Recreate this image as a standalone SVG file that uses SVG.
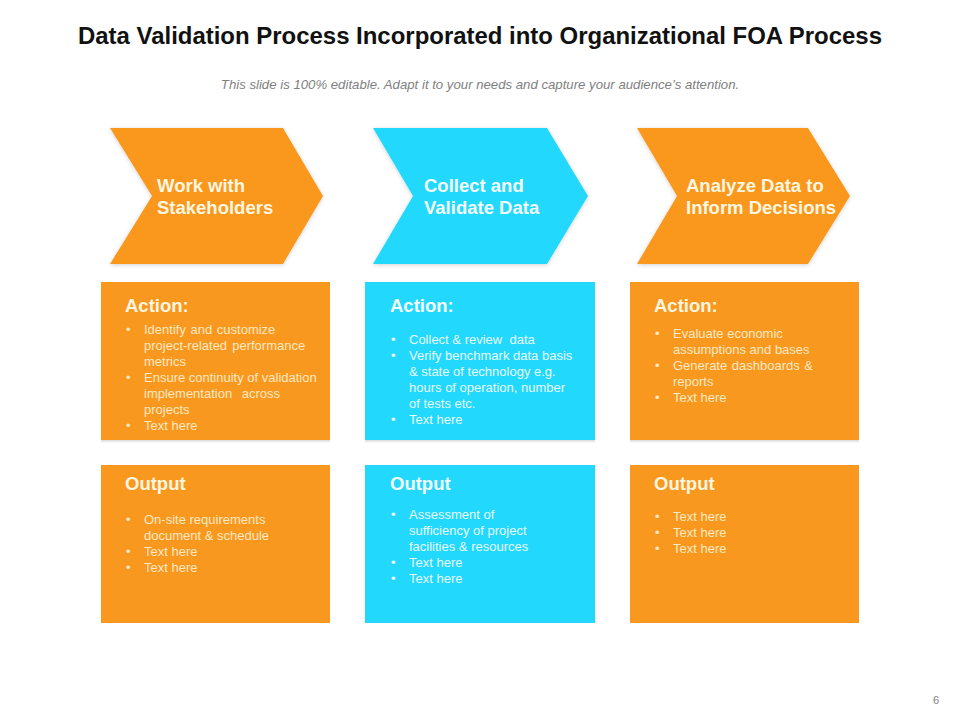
<svg xmlns="http://www.w3.org/2000/svg" width="960" height="720" viewBox="0 0 960 720">
<defs>
<style>
.t{font-family:"Liberation Sans",Arial,sans-serif}
.title{font-size:23px;font-weight:bold;fill:#111}
.sub{font-size:13.2px;font-style:italic;fill:#7f7f7f}
.chev{font-size:18.5px;font-weight:bold}
.hd{font-size:18.5px;font-weight:bold}
.bl{font-size:13px}
.o{fill:#F9981F}
.c{fill:#22D8FC}
.to{fill:#FFF6E0}
.tc{fill:#F2FCFF}
.bo{fill:#FDE8C2}
.bc{fill:#E6FAFF}
</style>
<filter id="glow" x="-10%" y="-10%" width="120%" height="120%">
<feGaussianBlur in="SourceAlpha" stdDeviation="2"/>
<feOffset dx="0" dy="1" result="b"/>
<feFlood flood-color="#000" flood-opacity="0.18"/>
<feComposite in2="b" operator="in"/>
<feMerge><feMergeNode/><feMergeNode in="SourceGraphic"/></feMerge>
</filter>
<linearGradient id="sh" x1="0" y1="0" x2="0" y2="1">
<stop offset="0" stop-color="#000" stop-opacity="0.15"/>
<stop offset="1" stop-color="#000" stop-opacity="0"/>
</linearGradient>
</defs>
<rect width="960" height="720" fill="#fff"/>
<text class="t title" x="480" y="44" text-anchor="middle" textLength="804" lengthAdjust="spacingAndGlyphs">Data Validation Process Incorporated into Organizational FOA Process</text>
<text class="t sub" x="480" y="89" text-anchor="middle">This slide is 100% editable. Adapt it to your needs and capture your audience’s attention.</text>

<g id="step1">
<path class="o" filter="url(#glow)" d="M110,128 L283,128 L323,196 L283,264 L110,264 L152,196 Z"/>
<text class="t chev to" x="157" y="192">Work with</text>
<text class="t chev to" x="157" y="214">Stakeholders</text>
</g>
<g id="step2">
<path class="c" filter="url(#glow)" d="M373,128 L547,128 L588,196 L547,264 L373,264 L413,196 Z"/>
<text class="t chev tc" x="424" y="192">Collect and</text>
<text class="t chev tc" x="424" y="214">Validate Data</text>
</g>
<g id="step3">
<path class="o" filter="url(#glow)" d="M637,128 L808,128 L850,196 L808,264 L637,264 L677,196 Z"/>
<text class="t chev to" x="686" y="192">Analyze Data to</text>
<text class="t chev to" x="686" y="214">Inform Decisions</text>
</g>

<g id="action1">
<rect x="101" y="440" width="229" height="3" fill="url(#sh)"/>
<rect class="o" x="101" y="282" width="229" height="158"/>
<text class="t hd to" x="125" y="312">Action:</text>
<g class="t bl">
<text class="bo" x="126" y="334">•</text>
<text class="bo" x="144" y="334" word-spacing="1">Identify and customize</text>
<text class="bo" x="144" y="350" word-spacing="1.5">project-related performance</text>
<text class="bo" x="144" y="366">metrics</text>
<text class="bo" x="126" y="382">•</text>
<text class="bo" x="144" y="382">Ensure continuity of validation</text>
<text class="bo" x="144" y="398" word-spacing="6">implementation across</text>
<text class="bo" x="144" y="414">projects</text>
<text class="bo" x="126" y="430">•</text>
<text class="bo" x="144" y="430">Text here</text>
</g>
</g>
<g id="action2">
<rect x="365" y="440" width="230" height="3" fill="url(#sh)"/>
<rect class="c" x="365" y="282" width="230" height="158"/>
<text class="t hd tc" x="390" y="312">Action:</text>
<g class="t bl">
<text class="bc" x="391" y="344">•</text>
<text class="bc" x="409" y="344" xml:space="preserve">Collect &amp; review  data</text>
<text class="bc" x="391" y="360">•</text>
<text class="bc" x="409" y="360">Verify benchmark data basis</text>
<text class="bc" x="409" y="376">&amp; state of technology e.g.</text>
<text class="bc" x="409" y="392">hours of operation, number</text>
<text class="bc" x="409" y="408">of tests etc.</text>
<text class="bc" x="391" y="424">•</text>
<text class="bc" x="409" y="424">Text here</text>
</g>
</g>
<g id="action3">
<rect x="630" y="440" width="229" height="3" fill="url(#sh)"/>
<rect class="o" x="630" y="282" width="229" height="158"/>
<text class="t hd to" x="654" y="312">Action:</text>
<g class="t bl">
<text class="bo" x="655" y="338">•</text>
<text class="bo" x="673" y="338">Evaluate economic</text>
<text class="bo" x="673" y="354">assumptions and bases</text>
<text class="bo" x="655" y="370">•</text>
<text class="bo" x="673" y="370" word-spacing="1">Generate dashboards &amp;</text>
<text class="bo" x="673" y="386">reports</text>
<text class="bo" x="655" y="402">•</text>
<text class="bo" x="673" y="402">Text here</text>
</g>
</g>

<g id="output1">
<rect class="o" x="101" y="465" width="229" height="158"/>
<text class="t hd to" x="125" y="490">Output</text>
<g class="t bl">
<text class="bo" x="126" y="524">•</text>
<text class="bo" x="144" y="524">On-site requirements</text>
<text class="bo" x="144" y="540">document &amp; schedule</text>
<text class="bo" x="126" y="556">•</text>
<text class="bo" x="144" y="556">Text here</text>
<text class="bo" x="126" y="572">•</text>
<text class="bo" x="144" y="572">Text here</text>
</g>
</g>
<g id="output2">
<rect class="c" x="365" y="465" width="230" height="158"/>
<text class="t hd tc" x="390" y="490">Output</text>
<g class="t bl">
<text class="bc" x="391" y="519">•</text>
<text class="bc" x="409" y="519">Assessment of</text>
<text class="bc" x="409" y="535">sufficiency of project</text>
<text class="bc" x="409" y="551">facilities &amp; resources</text>
<text class="bc" x="391" y="567">•</text>
<text class="bc" x="409" y="567">Text here</text>
<text class="bc" x="391" y="583">•</text>
<text class="bc" x="409" y="583">Text here</text>
</g>
</g>
<g id="output3">
<rect class="o" x="630" y="465" width="229" height="158"/>
<text class="t hd to" x="654" y="490">Output</text>
<g class="t bl">
<text class="bo" x="655" y="521">•</text>
<text class="bo" x="673" y="521">Text here</text>
<text class="bo" x="655" y="537">•</text>
<text class="bo" x="673" y="537">Text here</text>
<text class="bo" x="655" y="553">•</text>
<text class="bo" x="673" y="553">Text here</text>
</g>
</g>
<g id="connectors"/>
<text class="t" x="936" y="704" font-size="11" fill="#7f7f7f" text-anchor="middle">6</text>
</svg>
